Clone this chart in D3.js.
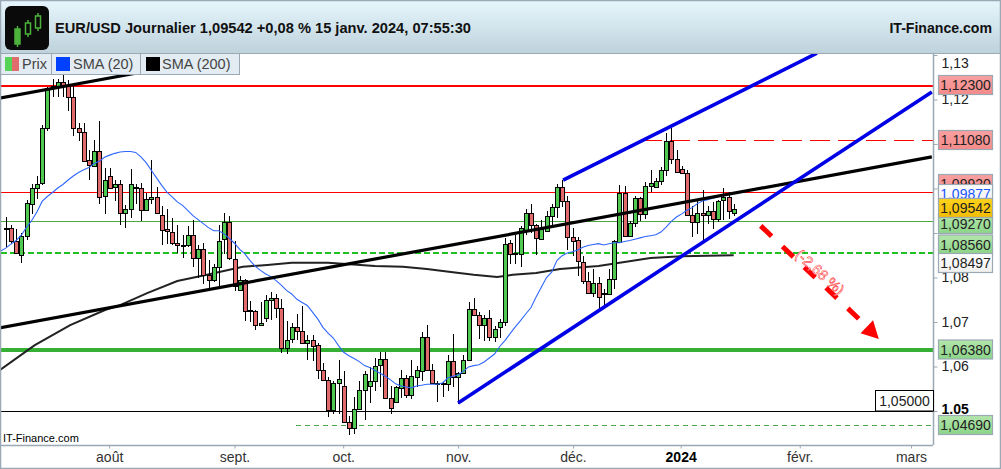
<!DOCTYPE html>
<html>
<head>
<meta charset="utf-8">
<title>EUR/USD Journalier</title>
<script src="https://cdn.jsdelivr.net/npm/d3@7"></script>
<style>
  html, body { margin: 0; padding: 0; background: #fff; }
  svg { display: block; font-family: "Liberation Sans", Arial, sans-serif; }
</style>
</head>
<body>
<div id="chart"></div>
<script>
// daily candles (one value per session)
var opens = [1.0912,1.0911,1.0881,1.0851,1.0893,1.0966,1.1002,1.1011,1.1135,1.1225,1.1232,1.1240,1.1232,1.1205,1.1135,1.1128,1.1063,1.1052,1.1085,1.0982,1.1027,1.1002,1.1009,1.0944,1.0953,1.1002,1.1002,1.0953,1.0977,1.0982,1.0941,1.0908,1.0903,1.0878,1.0874,1.0874,
  1.0896,1.0844,1.0864,1.0806,1.0795,1.0824,1.0885,1.0924,1.0842,1.0772,1.0795,1.0726,1.0725,1.0693,1.0709,1.0749,1.0754,1.0731,1.0641,1.0662,1.0689,1.0680,1.0653,1.0659,1.0648,1.0592,1.0570,1.0502,1.0563,1.0556,1.0475,1.0462,1.0504,1.0547,1.0556,1.0568,
  1.0604,1.0617,1.0529,1.0520,1.0553,1.0575,1.0536,1.0577,1.0590,1.0667,1.0593,1.0563,1.0562,1.0561,1.0613,1.0577,1.0586,1.0615,1.0730,1.0716,1.0694,1.0710,1.0667,1.0689,1.0701,1.0878,1.0856,1.0854,1.0905,1.0944,1.0917,1.0887,1.0905,1.0939,
  1.0958,1.1003,1.0972,1.0891,1.0885,1.0835,1.0792,1.0765,1.0787,1.0765,1.0763,1.0797,1.0882,1.0991,1.0894,1.0923,1.0979,1.0944,1.1006,1.1004,1.1017,1.1042,1.1107,1.1067,1.1044,1.1035,1.0941,1.0925,1.0945,1.0941,1.0950,1.0932,1.0975,1.0981,1.0945];
var highs = [1.0936,1.0917,1.0908,1.0901,1.0974,1.1011,1.1028,1.1142,1.1229,1.1245,1.1245,1.1255,1.1244,1.1230,1.1148,1.1148,1.1086,1.1109,1.1151,1.1047,1.1045,1.1020,1.1019,1.0962,1.1043,1.1011,1.1012,1.0991,1.1065,1.1004,1.0960,1.0953,1.0934,1.0919,1.0895,1.0915,
  1.0930,1.0872,1.0877,1.0840,1.0831,1.0917,1.0945,1.0939,1.0881,1.0804,1.0797,1.0748,1.0726,1.0744,1.0761,1.0768,1.0764,1.0752,1.0703,1.0698,1.0718,1.0736,1.0671,1.0671,1.0652,1.0608,1.0576,1.0568,1.0615,1.0591,1.0489,1.0531,1.0568,1.0591,1.0598,1.0620,
  1.0632,1.0632,1.0557,1.0557,1.0593,1.0580,1.0615,1.0602,1.0677,1.0694,1.0606,1.0568,1.0565,1.0625,1.0674,1.0587,1.0625,1.0745,1.0754,1.0722,1.0715,1.0726,1.0692,1.0707,1.0889,1.0884,1.0895,1.0915,1.0955,1.0966,1.0921,1.0930,1.0950,1.0966,
  1.1011,1.1018,1.0984,1.0912,1.0891,1.0849,1.0812,1.0818,1.0801,1.0774,1.0819,1.0885,1.1008,1.1005,1.0928,1.0984,1.0982,1.1014,1.1041,1.1024,1.1048,1.1125,1.1137,1.1086,1.1050,1.1042,1.0960,1.0973,1.0997,1.0960,1.0969,1.0975,1.1002,1.0992,1.0966];
var lows = [1.0869,1.0876,1.0852,1.0832,1.0884,1.0942,1.0977,1.1007,1.1130,1.1205,1.1205,1.1206,1.1175,1.1118,1.1107,1.1062,1.1019,1.1049,1.0965,1.0942,1.0998,1.0972,1.0917,1.0911,1.0934,1.0965,1.0927,1.0951,1.0966,1.0944,1.0872,1.0875,1.0872,1.0855,1.0844,1.0869,
  1.0823,1.0800,1.0786,1.0771,1.0789,1.0782,1.0853,1.0840,1.0769,1.0769,1.0703,1.0699,1.0683,1.0692,1.0699,1.0704,1.0709,1.0630,1.0629,1.0652,1.0659,1.0651,1.0615,1.0612,1.0573,1.0570,1.0486,1.0493,1.0493,1.0474,1.0447,1.0448,1.0502,1.0480,1.0519,1.0545,
  1.0553,1.0527,1.0494,1.0520,1.0530,1.0530,1.0527,1.0553,1.0568,1.0591,1.0563,1.0520,1.0531,1.0544,1.0553,1.0516,1.0585,1.0613,1.0715,1.0662,1.0658,1.0658,1.0655,1.0664,1.0690,1.0830,1.0830,1.0824,1.0895,1.0899,1.0851,1.0887,1.0902,1.0912,
  1.0933,1.0958,1.0861,1.0849,1.0804,1.0786,1.0763,1.0756,1.0724,1.0739,1.0761,1.0774,1.0879,1.0891,1.0891,1.0913,1.0928,1.0932,1.0992,1.1002,1.1007,1.1029,1.1056,1.1035,1.1034,1.0939,1.0891,1.0898,1.0879,1.0921,1.0909,1.0924,1.0930,1.0932,1.0939];
var closes = [1.0910,1.0881,1.0854,1.0893,1.0968,1.1002,1.1011,1.1135,1.1225,1.1230,1.1240,1.1232,1.1205,1.1135,1.1126,1.1063,1.1052,1.1085,1.0982,1.1018,1.1000,1.1009,1.0944,1.0953,1.1009,1.1004,1.0953,1.0977,1.0982,1.0947,1.0908,1.0903,1.0878,1.0874,1.0871,1.0896,
  1.0844,1.0864,1.0806,1.0795,1.0824,1.0882,1.0924,1.0842,1.0781,1.0795,1.0725,1.0724,1.0693,1.0698,1.0749,1.0754,1.0731,1.0641,1.0659,1.0689,1.0680,1.0653,1.0659,1.0646,1.0592,1.0570,1.0502,1.0563,1.0572,1.0475,1.0462,1.0504,1.0547,1.0583,1.0567,1.0602,
  1.0617,1.0529,1.0507,1.0553,1.0575,1.0536,1.0579,1.0593,1.0667,1.0593,1.0563,1.0561,1.0560,1.0613,1.0577,1.0586,1.0615,1.0730,1.0716,1.0694,1.0710,1.0667,1.0685,1.0701,1.0876,1.0854,1.0854,1.0912,1.0944,1.0917,1.0887,1.0910,1.0939,1.0959,
  1.1003,1.0972,1.0891,1.0882,1.0837,1.0792,1.0765,1.0787,1.0756,1.0763,1.0797,1.0882,1.0991,1.0894,1.0923,1.0979,1.0944,1.1006,1.1013,1.1017,1.1042,1.1107,1.1067,1.1037,1.1035,1.0941,1.0925,1.0945,1.0941,1.0950,1.0932,1.0973,1.0981,1.0950,1.0954];

// SMA 20, one value per session, starting one session before the first candle
var sma20 = [1.0859,1.0866,1.0875,1.0883,1.0895,1.0913,1.0928,1.0947,1.0971,1.0982,1.0991,1.1001,1.1009,1.1019,1.1028,1.1036,1.1042,1.1047,1.1056,1.1061,1.1070,1.1075,1.1079,1.1082,1.1083,1.1083,1.1081,1.1071,1.1058,1.1041,1.1024,1.1007,1.0992,1.0981,1.0970,1.0962,
  1.0951,1.0939,1.0930,1.0921,1.0912,1.0905,1.0905,1.0898,1.0888,1.0877,1.0863,1.0853,1.0838,1.0825,1.0816,1.0808,1.0802,1.0793,1.0783,1.0771,1.0763,1.0751,1.0744,1.0737,1.0722,1.0707,1.0688,1.0675,1.0664,1.0647,1.0632,1.0624,1.0618,1.0611,1.0602,1.0598,
  1.0591,1.0585,1.0578,1.0570,1.0561,1.0556,1.0554,1.0552,1.0556,1.0558,1.0560,1.0560,1.0560,1.0563,1.0574,1.0578,1.0581,1.0589,1.0599,1.0602,1.0604,1.0610,1.0619,1.0628,1.0645,1.0658,1.0674,1.0689,1.0703,1.0718,1.0732,1.0756,1.0778,1.0800,1.0812,
  1.0838,1.0849,1.0855,1.0858,1.0862,1.0868,1.0872,1.0874,1.0876,1.0873,1.0876,1.0878,1.0878,1.0881,1.0883,1.0886,1.0889,1.0892,1.0894,1.0896,1.0902,1.0913,1.0926,1.0936,1.0943,1.0951,1.0957,1.0966,1.0972,1.0975,1.0978,1.0981,1.0985,1.0988];

// SMA 200, read at a few sessions only
var sma200Days = [-1.1,5.6,12.4,19.1,22,27.2,33,38.7,45.6,50.3,55,62,71,76.4,81,86,90,94.5,97.5,102,106.6,114,124,130,140];
var sma200 = [1.0592,1.0648,1.0693,1.0727,1.0738,1.0765,1.0792,1.0806,1.0824,1.0828,1.0833,1.0833,1.0826,1.0824,1.0819,1.0812,1.0806,1.0801,1.0806,1.0810,1.0819,1.0826,1.0844,1.0848,1.0850];

// hand drawn lines of the analyst: [session, price]
var blackTrend = [[-1.1, 1.0687], [178.1, 1.1071]];
var blackTrendTop = [[-1.1, 1.1203], [29.7, 1.1269]];
var blueLow = [[87, 1.0518], [178.1, 1.1217]];
var blueHigh = [[107.2, 1.1019], [156, 1.1304]];
var arrowShaft = [[145.2, 1.0916], [164.7, 1.0700]];
var arrowHead = [[166.8, 1.0704], [164.4, 1.0675], [167.9, 1.0662]];
var arrowLabel = "(-2,68 %)";
var arrowLabelAt = [156.6, 1.0812];

// horizontal levels
var redLevels = [1.1230, 1.0992];
var redDashLevel = 1.1108;
var greenLevels = [1.0927, 1.0638];
var greenDashLevels = [1.0856, 1.0469];
var blackLevel = 1.05;

var monthLabels = ["août", "sept.", "oct.", "nov.", "déc.", "2024", "févr.", "mars"];
var monthDays = [19.9, 44, 64.9, 87, 109.1, 129.8, 152.7, 174.1];
var priceTicks = [1.05, 1.06, 1.07, 1.08, 1.09, 1.10, 1.11, 1.12, 1.13];
// these three sit fully behind the price tags
var hiddenTicks = [1.09, 1.10, 1.11];

var tagPrices = ["1,12300", "1,11080", "1,09920", "1,09877", "1,09270", "1,09542", "1,08560", "1,08497", "1,06380", "1,04690"];
var tagKinds = ["red", "red", "red", "blue", "green", "gold", "green", "white", "green", "green"];

var legendNames = ["Prix", "SMA (20)", "SMA (200)"];
var title = "EUR/USD Journalier 1,09542 +0,08 % 15 janv. 2024, 07:55:30";

var w = 1001;
var h = 469;
var plot = { left: 1, right: 933, top: 53, bottom: 445 };
var axisGray = "#9aa9b3";

var svg = d3.select("#chart").append("svg").attr("width", w).attr("height", h);

var defs = svg.append("defs");
function vGradient(id, top, bottom) {
  var g = defs.append("linearGradient").attr("id", id).attr("x1", 0).attr("y1", 0).attr("x2", 0).attr("y2", 1);
  g.append("stop").attr("offset", 0).attr("stop-color", top);
  g.append("stop").attr("offset", 1).attr("stop-color", bottom);
}
vGradient("head", "#e6f6fc", "#bed2dc");
vGradient("tag-red", "#f8a0a0", "#f58a8a");
vGradient("tag-green", "#b4e6ac", "#8bd488");
vGradient("tag-gold", "#ffd21a", "#f2bc06");
vGradient("tag-white", "#ffffff", "#f0f0f0");
defs.append("clipPath").attr("id", "plot-clip").append("rect")
  .attr("x", plot.left).attr("y", plot.top)
  .attr("width", plot.right - plot.left).attr("height", plot.bottom - plot.top);

// scales: sessions are evenly spaced, no weekend gaps
var x = d3.scaleLinear().domain([0, 140]).range([5.7, 733.7]);
var y = d3.scaleLinear().domain([1.05, 1.13]).range([411, 55]);

var chart = svg.append("g").attr("clip-path", "url(#plot-clip)");

// levels go under the candles
function level(price, color, width, dash, fromDay) {
  // thick lines sit half a pixel higher than thin ones in the original
  var py = Math.round(y(price)) + (width >= 2 ? -0.5 : 0.5);
  chart.append("line")
    .attr("x1", fromDay === undefined ? plot.left : x(fromDay)).attr("x2", plot.right)
    .attr("y1", py).attr("y2", py)
    .attr("stroke", color).attr("stroke-width", width)
    .attr("stroke-dasharray", dash)
    .attr("shape-rendering", "crispEdges");
}
level(redLevels[0], "#ff0000", 2, null);
level(redLevels[1], "#ff0000", 1, null);
level(redDashLevel, "#ff0000", 1, "20,8", 122.4);
level(greenLevels[0], "#4aa83c", 1, null);
level(greenLevels[1], "#35b035", 4, null);
level(greenDashLevels[0], "#1fc01f", 2, "6,3");
level(greenDashLevels[1], "#4aa84a", 1, "5,4", 55.8);
level(blackLevel, "#000", 1, null);

var sma200Line = d3.line().x(function (d, i) { return x(sma200Days[i]); }).y(function (d) { return y(d); });
chart.append("path").attr("d", sma200Line(sma200))
  .attr("fill", "none").attr("stroke", "#222").attr("stroke-width", 2);

// candles
var candles = chart.selectAll("g.candle")
  .data(opens)
  .enter()
  .append("g")
  .attr("class", "candle")
  .attr("shape-rendering", "crispEdges");
candles.append("line")
  .attr("x1", function (d, i) { return Math.round(x(i)) + 0.5; })
  .attr("x2", function (d, i) { return Math.round(x(i)) + 0.5; })
  .attr("y1", function (d, i) { return y(highs[i]); })
  .attr("y2", function (d, i) { return y(lows[i]); })
  .attr("stroke", "#000");
candles.append("rect")
  .attr("x", function (d, i) { return Math.round(x(i)) - 1.5; })
  .attr("width", 4)
  .attr("y", function (d, i) { return Math.round(y(Math.max(d, closes[i]))) + 0.5; })
  .attr("height", function (d, i) { return Math.max(1, Math.round(Math.abs(y(d) - y(closes[i])))); })
  .attr("fill", function (d, i) { return closes[i] >= d ? "#4fc94f" : "#e26a6a"; })
  .attr("stroke", "#000");

var sma20Line = d3.line().x(function (d, i) { return x(i - 1); }).y(function (d) { return y(d); });
chart.append("path").attr("d", sma20Line(sma20))
  .attr("fill", "none").attr("stroke", "#2f66ff").attr("stroke-width", 1.1);

// trend lines
var segment = d3.line().x(function (d) { return x(d[0]); }).y(function (d) { return y(d[1]); });
function trend(points, color, width) {
  chart.append("path").attr("d", segment(points)).attr("fill", "none")
    .attr("stroke", color).attr("stroke-width", width);
}
trend(blackTrend, "#000", 3.2);
trend(blackTrendTop, "#000", 3.2);
trend(blueLow, "#0000e6", 3.6);
trend(blueHigh, "#0000e6", 3.6);

// red forecast arrow
chart.append("path").attr("d", segment(arrowShaft)).attr("fill", "none")
  .attr("stroke", "#ff0000").attr("stroke-width", 5).attr("stroke-dasharray", "15,15");
chart.append("path").attr("d", segment(arrowHead) + "Z").attr("fill", "#ff0000");
chart.append("text")
  .attr("transform", "translate(" + x(arrowLabelAt[0]) + "," + y(arrowLabelAt[1]) + ") rotate(42)")
  .attr("text-anchor", "middle").attr("dominant-baseline", "central")
  .attr("font-size", 14.5).attr("fill", "#fff").attr("stroke", "#ff0000").attr("stroke-width", 0.45)
  .text(arrowLabel);

chart.append("text").attr("x", 3).attr("y", 442).attr("font-size", 11).attr("fill", "#000").text("IT-Finance.com");

// right price axis
var yAxis = d3.axisRight(y).tickValues(priceTicks).tickSize(4).tickPadding(4)
  .tickFormat(function (d) {
    if (hiddenTicks.indexOf(d) >= 0) return "";
    return d === 1.05 ? "1.05" : d3.format(".2f")(d).replace(".", ",");
  });
var yG = svg.append("g").attr("transform", "translate(" + (plot.right + 0.5) + ",0)").call(yAxis);
yG.select(".domain").attr("d", "M0," + plot.top + "V" + plot.bottom).attr("stroke", axisGray).attr("stroke-width", 1.5);
yG.selectAll(".tick line").attr("stroke", axisGray);
yG.selectAll(".tick text").attr("font-size", 14).attr("font-family", "Liberation Sans")
  .attr("font-weight", function (d) { return d === 1.05 ? "bold" : "normal"; })
  .attr("fill", function (d) { return d === 1.05 ? "#000" : "#222"; })
  // the top label hangs below its tick, the bold one a little above
  .attr("y", function (d) { return d === 1.13 ? 8 : (d === 1.05 ? -2 : 0); });

// bottom time axis
var xAxis = d3.axisBottom(x).tickValues(monthDays).tickSize(3).tickPadding(4)
  .tickFormat(function (d, i) { return monthLabels[i]; });
var xG = svg.append("g").attr("transform", "translate(0," + (plot.bottom + 0.5) + ")").call(xAxis);
xG.select(".domain").attr("d", "M" + plot.left + ",0H" + plot.right).attr("stroke", axisGray).attr("stroke-width", 1.5);
xG.selectAll(".tick line").attr("stroke", axisGray);
xG.selectAll(".tick text").attr("font-size", 14).attr("font-family", "Liberation Sans")
  .attr("font-weight", function (d, i) { return monthLabels[i] === "2024" ? "bold" : "normal"; })
  .attr("fill", function (d, i) { return monthLabels[i] === "2024" ? "#000" : "#333"; });

// price tags on the axis, some overlap as in the original
var tagCenters = [85, 140, 184, 194, 224, 208, 244.5, 263, 349.5, 425];
var tags = svg.selectAll("g.tag")
  .data(tagPrices)
  .enter()
  .append("g")
  .attr("class", "tag")
  .attr("transform", function (d, i) { return "translate(938.5," + tagCenters[i] + ")"; });
tags.append("rect")
  .attr("x", 0).attr("y", -9.5).attr("width", 54).attr("height", 19)
  .attr("fill", function (d, i) {
    var k = tagKinds[i];
    return "url(#tag-" + (k === "blue" ? "white" : k) + ")";
  })
  .attr("stroke", axisGray).attr("stroke-width", 1.2);
tags.append("text")
  .attr("x", 27).attr("y", 0).attr("dy", "0.36em").attr("text-anchor", "middle")
  .attr("font-size", 14)
  .attr("fill", function (d, i) { return tagKinds[i] === "blue" ? "#1a55ff" : "#222"; })
  .text(function (d) { return d; });

// boxed level on the plot edge
var boxG = svg.append("g");
boxG.append("rect").attr("x", 875.5).attr("y", 390.5).attr("width", 58).attr("height", 20.5)
  .attr("fill", "#fff").attr("stroke", "#000");
boxG.append("text").attr("x", 904.5).attr("y", 401).attr("dy", "0.36em").attr("text-anchor", "middle")
  .attr("font-size", 14).attr("fill", "#222").text("1,05000");

// header band
svg.append("rect").attr("x", 0.5).attr("y", 0.5).attr("width", w - 1).attr("height", 53)
  .attr("fill", "url(#head)").attr("stroke", axisGray);
svg.append("rect").attr("x", 5).attr("y", 6).attr("width", 44).attr("height", 44).attr("rx", 6).attr("fill", "#0a0a0a");
// three small candles in the logo
var logoX = [17.5, 28, 38];
var logoTop = [26, 20, 13];
var logoBody = [15, 11, 12];
logoX.forEach(function (lx, i) {
  svg.append("line").attr("x1", lx).attr("x2", lx).attr("y1", logoTop[i]).attr("y2", logoTop[i] + logoBody[i] + 6)
    .attr("stroke", "#4db33d").attr("stroke-width", 1.5);
  svg.append("rect").attr("x", lx - 2.5).attr("y", logoTop[i] + 3).attr("width", 5).attr("height", logoBody[i])
    .attr("fill", i === 0 ? "#4db33d" : "#0a0a0a").attr("stroke", "#4db33d").attr("stroke-width", 1.5);
});
svg.append("text").attr("x", 55).attr("y", 33).attr("font-size", 14.65).attr("font-weight", "bold")
  .attr("fill", "#111").text(title);
svg.append("text").attr("x", 992).attr("y", 33).attr("text-anchor", "end").attr("font-size", 14.1).attr("font-weight", "bold")
  .attr("fill", "#111").text("IT-Finance.com");

// legend row
var legendCells = [[0.5, 51], [51.5, 89], [140.5, 99]];
var legendText = [22, 73, 162];
legendCells.forEach(function (c, i) {
  svg.append("rect").attr("x", c[0]).attr("y", 53.5).attr("width", c[1]).attr("height", 21)
    .attr("fill", "#e3ecf2").attr("stroke", axisGray);
  svg.append("text").attr("x", legendText[i]).attr("y", 69).attr("font-size", 14.5).attr("fill", "#444").text(legendNames[i]);
});
svg.append("rect").attr("x", 5).attr("y", 57).attr("width", 7).attr("height", 14).attr("fill", "#55d455");
svg.append("rect").attr("x", 12).attr("y", 57).attr("width", 7).attr("height", 14).attr("fill", "#e06c6c");
svg.append("rect").attr("x", 56).attr("y", 57).attr("width", 14).attr("height", 14).attr("fill", "#0040ff");
svg.append("rect").attr("x", 146).attr("y", 57).attr("width", 14).attr("height", 14).attr("fill", "#000");

// outer frame
svg.append("rect").attr("x", 0.5).attr("y", 0.5).attr("width", w - 1).attr("height", h - 1)
  .attr("fill", "none").attr("stroke", axisGray).attr("stroke-width", 1.5);
</script>
</body>
</html>
